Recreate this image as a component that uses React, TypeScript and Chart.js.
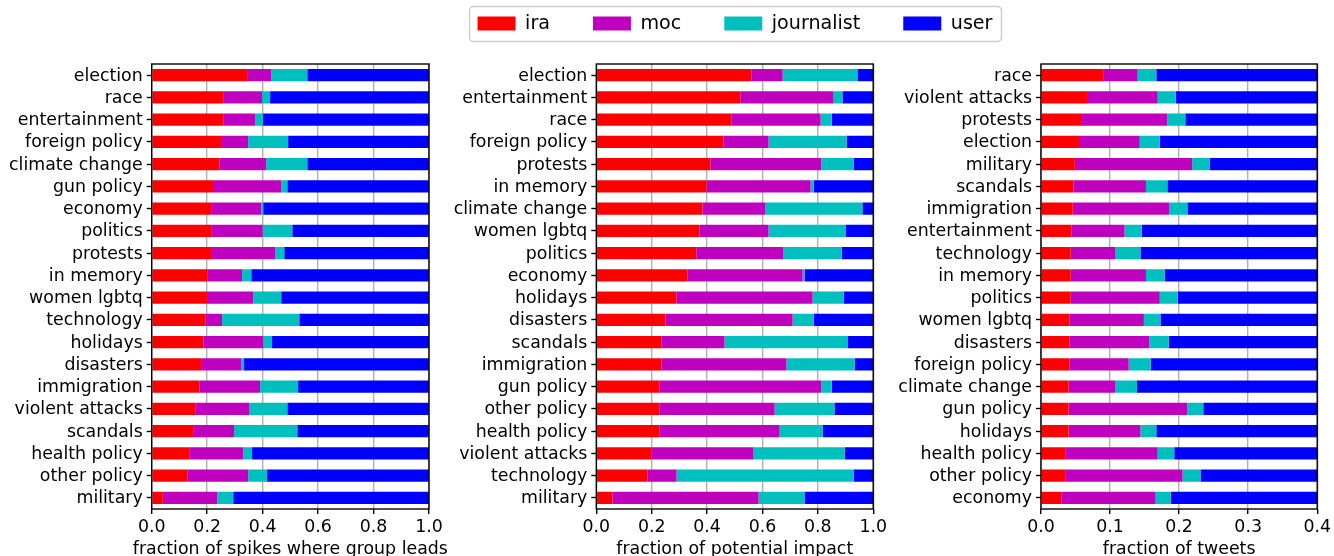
import React, { useEffect, useRef } from 'react';
import { Chart, registerables } from 'chart.js';

Chart.register(...registerables);

const FONT = 'DejaVu Sans';
const FS = 17.36;

const seriesNames = ['ira', 'moc', 'journalist', 'user'];
const seriesColors = ['#ff0000', '#bf00bf', '#00bfbf', '#0000ff'];

// Panel 1: fraction of spikes where group leads
const spikeCategories = ['election', 'race', 'entertainment', 'foreign policy', 'climate change', 'gun policy', 'economy', 'politics', 'protests', 'in memory', 'women lgbtq', 'technology', 'holidays', 'disasters', 'immigration', 'violent attacks', 'scandals', 'health policy', 'other policy', 'military'];
const spikeIra = [0.347, 0.260, 0.258, 0.250, 0.245, 0.221, 0.217, 0.217, 0.214, 0.200, 0.199, 0.195, 0.187, 0.178, 0.173, 0.159, 0.152, 0.135, 0.130, 0.040];
const spikeMoc = [0.084, 0.138, 0.115, 0.098, 0.168, 0.246, 0.178, 0.183, 0.231, 0.126, 0.167, 0.059, 0.216, 0.144, 0.218, 0.192, 0.145, 0.195, 0.218, 0.196];
const spikeJournalist = [0.130, 0.029, 0.028, 0.144, 0.148, 0.022, 0.007, 0.107, 0.033, 0.033, 0.101, 0.278, 0.031, 0.011, 0.137, 0.138, 0.228, 0.032, 0.068, 0.058];
const spikeUser = [0.439, 0.573, 0.599, 0.508, 0.439, 0.511, 0.598, 0.493, 0.522, 0.641, 0.533, 0.468, 0.566, 0.667, 0.472, 0.511, 0.475, 0.638, 0.584, 0.706];

// Panel 2: fraction of potential impact
const impactCategories = ['election', 'entertainment', 'race', 'foreign policy', 'protests', 'in memory', 'climate change', 'women lgbtq', 'politics', 'economy', 'holidays', 'disasters', 'scandals', 'immigration', 'gun policy', 'other policy', 'health policy', 'violent attacks', 'technology', 'military'];
const impactIra = [0.561, 0.520, 0.489, 0.460, 0.412, 0.398, 0.383, 0.373, 0.361, 0.330, 0.289, 0.250, 0.236, 0.236, 0.229, 0.229, 0.229, 0.199, 0.185, 0.058];
const impactMoc = [0.112, 0.337, 0.321, 0.162, 0.401, 0.376, 0.228, 0.249, 0.315, 0.415, 0.492, 0.459, 0.227, 0.451, 0.584, 0.415, 0.433, 0.369, 0.105, 0.528];
const impactJournalist = [0.270, 0.032, 0.040, 0.282, 0.116, 0.011, 0.350, 0.278, 0.210, 0.007, 0.112, 0.076, 0.444, 0.246, 0.037, 0.216, 0.155, 0.329, 0.639, 0.166];
const impactUser = [0.057, 0.111, 0.150, 0.096, 0.071, 0.215, 0.039, 0.100, 0.114, 0.248, 0.107, 0.215, 0.093, 0.067, 0.150, 0.140, 0.183, 0.103, 0.071, 0.248];

// Panel 3: fraction of tweets
const tweetCategories = ['race', 'violent attacks', 'protests', 'election', 'military', 'scandals', 'immigration', 'entertainment', 'technology', 'in memory', 'politics', 'women lgbtq', 'disasters', 'foreign policy', 'climate change', 'gun policy', 'holidays', 'health policy', 'other policy', 'economy'];
const tweetIra = [0.090, 0.068, 0.058, 0.055, 0.049, 0.047, 0.046, 0.044, 0.043, 0.043, 0.043, 0.041, 0.041, 0.041, 0.040, 0.040, 0.040, 0.036, 0.036, 0.030];
const tweetMoc = [0.050, 0.101, 0.125, 0.088, 0.170, 0.105, 0.140, 0.077, 0.065, 0.109, 0.129, 0.108, 0.116, 0.086, 0.068, 0.172, 0.104, 0.133, 0.169, 0.136];
const tweetJournalist = [0.027, 0.026, 0.026, 0.029, 0.025, 0.031, 0.026, 0.025, 0.036, 0.027, 0.026, 0.024, 0.028, 0.032, 0.031, 0.023, 0.023, 0.024, 0.026, 0.022];
const tweetUser = [0.833, 0.805, 0.791, 0.828, 0.756, 0.817, 0.788, 0.854, 0.856, 0.821, 0.802, 0.827, 0.815, 0.841, 0.861, 0.765, 0.833, 0.807, 0.769, 0.812];

const fracTickValues = [0, 0.2, 0.4, 0.6, 0.8, 1.0];
const fracTickLabels = ['0.0', '0.2', '0.4', '0.6', '0.8', '1.0'];
const tweetTickValues = [0, 0.1, 0.2, 0.3, 0.4];
const tweetTickLabels = ['0.0', '0.1', '0.2', '0.3', '0.4'];

const spinesPlugin = {
  id: 'spines',
  afterDraw(chart: any) {
    const { ctx, chartArea: a } = chart;
    ctx.save();
    ctx.strokeStyle = '#000';
    ctx.lineWidth = 1.39;
    ctx.strokeRect(a.left, a.top, a.right - a.left, a.bottom - a.top);
    ctx.restore();
  },
};

const xTitlePlugin = {
  id: 'xTitle',
  afterDraw(chart: any, _args: any, opts: any) {
    const { ctx, chartArea: a } = chart;
    ctx.save();
    ctx.font = `${FS}px "${FONT}"`;
    ctx.fillStyle = '#000';
    ctx.textAlign = 'center';
    ctx.textBaseline = 'middle';
    ctx.fillText(opts.text, (a.left + a.right) / 2, chart.scales.x.bottom - 6.5);
    ctx.restore();
  },
};

const legendFramePlugin = {
  id: 'legendFrame',
  beforeDraw(chart: any) {
    const hb = chart.legend && chart.legend.legendHitBoxes;
    if (!hb || !hb.length) return;
    const { ctx } = chart;
    const first = hb[0];
    const last = hb[hb.length - 1];
    const left = first.left - 8;
    const right = last.left + last.width + 9;
    const cy = first.top + first.height / 2;
    const top = cy - 17;
    const bottom = cy + 18;
    ctx.save();
    ctx.beginPath();
    ctx.roundRect(left, top, right - left, bottom - top, 4);
    ctx.fillStyle = 'rgba(255,255,255,0.8)';
    ctx.fill();
    ctx.strokeStyle = '#cccccc';
    ctx.lineWidth = 1.39;
    ctx.stroke();
    ctx.restore();
  },
};

function makePanel(
  categories: string[],
  series: number[][],
  xMax: number,
  tickValues: number[],
  tickLabels: string[],
  title: string,
  yAxisWidth: number,
  padRight: number
): any {
  return {
    type: 'bar',
    data: {
      labels: categories,
      datasets: series.map((d, i) => ({
        label: seriesNames[i],
        data: d,
        backgroundColor: seriesColors[i],
        borderWidth: 0,
        categoryPercentage: 1,
        barPercentage: 0.54,
      })),
    },
    options: {
      animation: false,
      responsive: false,
      devicePixelRatio: 1,
      indexAxis: 'y',
      layout: { padding: { left: 0, right: padRight, top: 64, bottom: 0 } },
      plugins: {
        legend: { display: false },
        tooltip: { enabled: false },
        xTitle: { text: title },
      },
      scales: {
        x: {
          type: 'linear',
          stacked: true,
          min: 0,
          max: xMax,
          z: 1,
          afterBuildTicks: (s: any) => {
            s.ticks = tickValues.map((v) => ({ value: v }));
          },
          afterFit: (s: any) => {
            s.height = 47;
          },
          grid: {
            color: '#b0b0b0',
            lineWidth: 1.39,
            drawTicks: true,
            tickLength: 5,
            tickColor: '#000',
            tickWidth: 1.39,
          },
          border: { display: false },
          ticks: {
            callback: (_v: any, i: number) => tickLabels[i],
            color: '#000',
            font: { size: FS, family: FONT },
            padding: 3,
            autoSkip: false,
            maxRotation: 0,
          },
        },
        y: {
          type: 'category',
          stacked: true,
          afterFit: (s: any) => {
            s.width = yAxisWidth;
          },
          grid: {
            drawOnChartArea: false,
            drawTicks: true,
            tickLength: 5,
            tickColor: '#000',
            tickWidth: 1.39,
            offset: false,
          },
          border: { display: false },
          ticks: {
            color: '#000',
            font: { size: FS, family: FONT },
            padding: 4,
            labelOffset: 1,
            autoSkip: false,
          },
        },
      },
    },
    plugins: [spinesPlugin, xTitlePlugin],
  };
}

function makeLegend(): any {
  return {
    type: 'bar',
    data: {
      labels: [],
      datasets: seriesNames.map((n, i) => ({
        label: n,
        data: [],
        backgroundColor: seriesColors[i],
        borderWidth: 0,
      })),
    },
    options: {
      animation: false,
      responsive: false,
      devicePixelRatio: 1,
      scales: { x: { display: false }, y: { display: false } },
      plugins: {
        tooltip: { enabled: false },
        legend: {
          display: true,
          position: 'top',
          align: 'center',
          labels: {
            boxWidth: 38,
            boxHeight: 14,
            padding: 43,
            color: '#000',
            font: { size: 19.1, family: FONT },
          },
        },
      },
    },
    plugins: [legendFramePlugin],
  };
}

function ChartBox(props: { make: () => any; left: number; top: number; width: number; height: number }) {
  const ref = useRef<HTMLCanvasElement | null>(null);
  useEffect(() => {
    if (!ref.current) return;
    const c = new Chart(ref.current, props.make());
    return () => c.destroy();
  }, []);
  return (
    <canvas
      ref={ref}
      width={props.width}
      height={props.height}
      style={{ position: 'absolute', left: props.left, top: props.top, width: props.width, height: props.height, pointerEvents: 'none' }}
    />
  );
}

export default function App() {
  Chart.defaults.font.family = FONT;
  return (
    <div style={{ position: 'fixed', left: 0, top: 0, width: 1334, height: 556, overflow: 'hidden', background: '#fff' }}>
      <ChartBox
        left={0}
        top={0}
        width={450}
        height={556}
        make={() =>
          makePanel(spikeCategories, [spikeIra, spikeMoc, spikeJournalist, spikeUser], 1.0, fracTickValues, fracTickLabels, 'fraction of spikes where group leads', 151.7, 21)
        }
      />
      <ChartBox
        left={440}
        top={0}
        width={450}
        height={556}
        make={() =>
          makePanel(impactCategories, [impactIra, impactMoc, impactJournalist, impactUser], 1.0, fracTickValues, fracTickLabels, 'fraction of potential impact', 156.3, 16.5)
        }
      />
      <ChartBox
        left={880}
        top={0}
        width={454}
        height={556}
        make={() =>
          makePanel(tweetCategories, [tweetIra, tweetMoc, tweetJournalist, tweetUser], 0.4, tweetTickValues, tweetTickLabels, 'fraction of tweets', 161, 15.7)
        }
      />
      <ChartBox left={335} top={-29} width={800} height={200} make={makeLegend} />
    </div>
  );
}
